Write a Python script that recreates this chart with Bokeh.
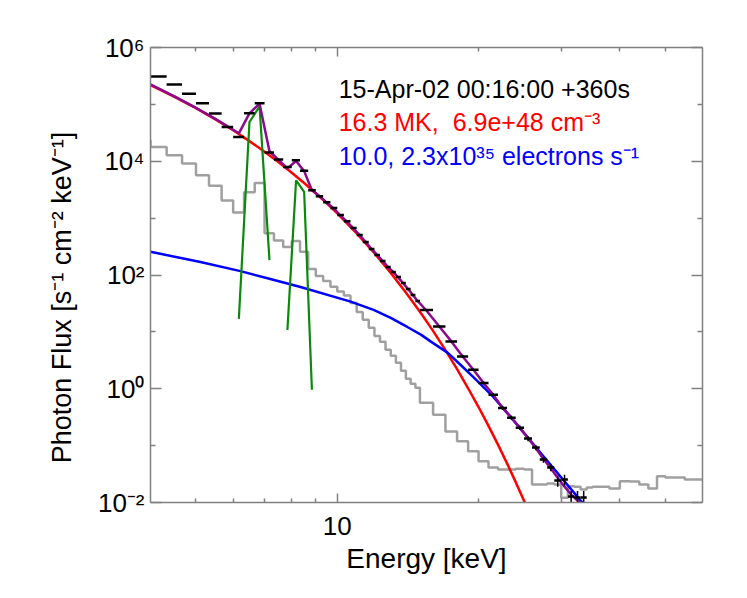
from bokeh.plotting import figure
from bokeh.models import FixedTicker, LogAxis, Label, CustomJSTickFormatter, Range1d
from bokeh.embed import file_html
from bokeh.resources import INLINE

# ---------------- data ----------------
# observed count-flux spectrum: energy bin edges [keV], flux, relative error
data_edges = [4.0, 4.33, 4.67, 5.0, 5.33, 5.67, 6.0, 6.33, 6.67, 7.0, 7.33, 7.67, 8.0,
              8.33, 8.67, 9.0, 9.33, 9.67, 10.0, 10.33, 10.67, 11.0, 11.33, 11.67, 12.0,
              12.33, 12.67, 13.0, 13.33, 13.67, 14.0, 14.33, 14.67, 15.0,
              16, 17, 18, 19, 20, 21, 22, 23, 24, 25, 26, 27, 28, 29, 30, 31, 32, 33, 34]
data_flux = [3.1e5, 2.24e5, 1.54e5, 1.05e5, 6.9e4, 4.0e4, 2.67e4, 7.0e4, 1.05e5, 1.42e4,
             1.07e4, 7.9e3, 1.04e4, 6.8e3, 3100, 2430, 1910, 1500, 1130, 885, 668, 504,
             379, 286, 224, 176, 138, 113, 92.3, 72.4, 56.8, 44.6, 35.0,
             24.3, 12.4, 6.76, 3.69, 2.15, 1.26, 0.785, 0.458, 0.310, 0.207, 0.133,
             0.0923, 0.0568, 0.0411, 0.0243, 0.0253, 0.0127, 0.0122, 0.0122]
data_err = [0.01] * 20 + [0.015] * 7 + [0.02] * 6 + \
           [0.03, 0.04, 0.04, 0.05, 0.05, 0.06, 0.07, 0.08, 0.08, 0.09, 0.10, 0.10,
            0.12, 0.14, 0.22, 0.22, 0.25, 0.30, 0.30]

# background (grey histogram)
bkg_edges = [3.67, 4.0, 4.33, 4.67, 5.0, 5.33, 5.67, 6.0, 6.33, 6.67, 7.0, 7.33, 7.67, 8.0,
             8.33, 8.67, 9.0, 9.33, 9.67, 10.0, 10.33, 10.67, 11.0, 11.33, 11.67, 12.0,
             12.33, 12.67, 13.0, 13.33, 13.67, 14.0, 14.33, 14.67, 15.0,
             16, 17, 18, 19, 20, 21, 22, 23, 24, 25, 26, 27, 28, 29, 30, 31, 32, 33, 34,
             35, 36, 37, 38, 39, 40, 42, 44, 46, 48, 50, 55, 60]
bkg_flux = [2.33e4, 1.78e4, 1.27e4, 9.1e3, 5.7e3, 3.7e3, 2.05e3, 1.26e3, 2.86e3, 4.16e3,
            540, 406, 310, 395, 256, 127, 96, 78.5, 62.4, 51.4, 43.7, 32.3, 22.4, 16.3,
            11.8, 8.5, 6.7, 4.83, 3.79, 2.86, 2.07, 1.50, 1.22, 1.04,
            0.568, 0.35, 0.178, 0.119, 0.0794, 0.0531, 0.0411, 0.0379, 0.0379, 0.0394,
            0.0379, 0.0207, 0.0207, 0.0215, 0.0207, 0.0121, 0.0193, 0.019, 0.0169,
            0.0183, 0.019, 0.019, 0.019, 0.0176, 0.0176, 0.0237, 0.0233, 0.0207,
            0.0176, 0.0289, 0.0274, 0.0254]

# thermal component (red)
th_energy = [4.0, 4.5, 5.0, 5.5, 6.0, 6.5, 7.0, 7.5, 8.0, 8.5, 9.0, 9.5, 10.0, 11.0,
             12.0, 13.0, 14.0, 15.0, 16.0, 17.0, 18.0, 19.0, 20.0, 21.0, 22.0, 23.0,
             24.0, 25.0, 26.0]
th_flux = [2.19e5, 1.36e5, 8.58e4, 5.46e4, 3.5e4, 2.26e4, 1.47e4, 9.59e3, 6.29e3,
           4.14e3, 2.74e3, 1.82e3, 1.21e3, 537, 241, 109, 49.4, 22.6, 10.4, 4.79,
           2.21, 1.02, 0.477, 0.222, 0.104, 0.0487, 0.0228, 0.0107, 0.00505]

# thick-target component (blue)
nt_energy = [4.0, 5.11, 6.22, 7.2, 8.35, 10.68, 11.95, 13.0, 14.1, 15.1, 15.8, 17.2,
             18.3, 19.5, 21.5, 23.4, 27.1, 33.0, 33.8]
nt_flux = [256, 169, 117, 85, 61.5, 34.0, 24.3, 17.6, 12.2, 8.85, 6.81, 4.28,
           2.64, 1.6, 0.72, 0.32, 0.075, 0.0108, 0.0088]

# line components (green), two line complexes
ln1_energy = [6.17, 6.5, 6.83, 7.17]
ln1_flux = [16.9, 4.9e4, 9.2e4, 183]
ln2_energy = [7.83, 8.17, 8.5, 8.83]
ln2_flux = [10.8, 4.6e3, 2.9e3, 0.96]

# total model (purple)
tot_energy = [4.0, 4.5, 5.0, 5.5, 6.17, 6.5, 6.83, 7.17, 7.83, 8.17, 8.5, 8.83, 9.17,
              9.5, 9.83, 10.17, 10.5, 10.83, 11.17, 11.5, 11.83, 12.17, 12.5, 12.83,
              13.17, 13.5, 13.83, 14.17, 14.5, 14.83, 15.5, 16.5, 17.5, 18.5, 19.5,
              20.5, 21.5, 22.5, 23.5, 24.5, 25.5, 26.5, 27.5, 28.5, 29.5, 30.5, 31.5,
              32.5, 33.5]
tot_flux = [2.24e5, 1.38e5, 8.7e4, 5.56e4, 3.1e4, 6.95e4, 1.03e5, 1.5e4, 7.5e3, 1.01e4,
            6.7e3, 3.1e3, 2.43e3, 1.87e3, 1.48e3, 1.1e3, 860, 655, 500, 378, 287, 224,
            176, 138, 112, 90, 71, 56, 44, 35, 23.5, 12.4, 6.8, 3.7, 2.15, 1.26, 0.78,
            0.46, 0.31, 0.205, 0.135, 0.09, 0.058, 0.04, 0.027, 0.019, 0.0138, 0.0108,
            0.0088]

# axes
x_major_ticks = [10]
x_minor_ticks = [5, 6, 7, 8, 9, 20, 30, 40, 50]
x_tick_labels = ["10"]
y_major_ticks = [1e-2, 1e0, 1e2, 1e4, 1e6]
y_minor_ticks = [1e-1, 1e1, 1e3, 1e5]
y_tick_labels = ["10\u207b\u00b2", "10\u2070", "10\u00b2", "10\u2074", "10\u2076"]

title_lines = ["15-Apr-02 00:16:00 +360s",
               "16.3 MK,\u00a0 6.9e+48 cm\u207b\u00b3",
               "10.0, 2.3x10\u00b3\u2075 electrons s\u207b\u00b9"]
title_colors = ["black", "#ff0000", "#0000ff"]

FONT = "Liberation Sans"
AX = "#808080"

p = figure(width=739, height=590, x_axis_type="log", y_axis_type="log",
           x_range=Range1d(4, 60), y_range=Range1d(1e-2, 1e6),
           output_backend="svg", toolbar_location=None,
           min_border_left=150, min_border_right=37, min_border_top=47,
           min_border_bottom=88, outline_line_color=None,
           background_fill_color="white", border_fill_color="white")
p.grid.visible = False


def style(ax, maj, mnr):
    ax.axis_line_color = AX
    ax.axis_line_width = 1.5
    ax.major_tick_line_color = AX
    ax.minor_tick_line_color = AX
    ax.major_tick_line_width = 1.5
    ax.minor_tick_line_width = 1.5
    ax.major_tick_in = maj
    ax.major_tick_out = 0
    ax.minor_tick_in = mnr
    ax.minor_tick_out = 0


xb = p.below[0]
xb.ticker = FixedTicker(ticks=x_major_ticks, minor_ticks=x_minor_ticks)
xb.major_label_overrides = dict(zip(x_major_ticks, x_tick_labels))
style(xb, 9, 4)
xb.major_label_text_font = FONT
xb.major_label_text_font_size = "26px"
xb.major_label_text_color = "black"
xb.major_label_standoff = 14
xb.axis_label = "Energy [keV]"
xb.axis_label_text_font = FONT
xb.axis_label_text_font_size = "28px"
xb.axis_label_text_font_style = "normal"
xb.axis_label_text_color = "black"
xb.axis_label_standoff = 5

yl = p.left[0]
yl.ticker = FixedTicker(ticks=y_major_ticks, minor_ticks=y_minor_ticks)
yl.major_label_overrides = dict(zip(y_major_ticks, y_tick_labels))
style(yl, 11, 5)
yl.major_label_text_font = FONT
yl.major_label_text_font_size = "26px"
yl.major_label_text_color = "black"
yl.major_label_standoff = 6
yl.axis_label = "Photon Flux [s\u207b\u00b9 cm\u207b\u00b2 keV\u207b\u00b9]" + "\u00a0" * 6
yl.axis_label_text_font = FONT
yl.axis_label_text_font_size = "27px"
yl.axis_label_text_font_style = "normal"
yl.axis_label_text_color = "black"
yl.axis_label_standoff = 18

empty = CustomJSTickFormatter(code="return ''")
yr = LogAxis(ticker=FixedTicker(ticks=y_major_ticks, minor_ticks=y_minor_ticks),
             formatter=empty)
style(yr, 11, 5)
p.add_layout(yr, "right")
xt = LogAxis(ticker=FixedTicker(ticks=x_major_ticks, minor_ticks=x_minor_ticks),
             formatter=empty)
style(xt, 9, 4)
p.add_layout(xt, "above")

# background histogram
p.step(bkg_edges, bkg_flux + [bkg_flux[-1]], mode="after",
       line_color="#a0a0a0", line_width=2.5)
# model components
p.line(th_energy, th_flux, line_color="#ff0000", line_width=2.5)
p.line(nt_energy, nt_flux, line_color="#0000ff", line_width=2.5)
p.line(ln1_energy, ln1_flux, line_color="#0a8a0a", line_width=2.2)
p.line(ln2_energy, ln2_flux, line_color="#0a8a0a", line_width=2.2)
p.line(tot_energy, tot_flux, line_color="#8b0a8b", line_width=2.5)

# data: horizontal bin bars and vertical error bars
lo = data_edges[:-1]
hi = data_edges[1:]
mid = [(a * b) ** 0.5 for a, b in zip(lo, hi)]
p.segment(x0=lo, x1=hi, y0=data_flux, y1=data_flux, line_color="black", line_width=2.5)
p.segment(x0=mid, x1=mid, y0=[f * (1 - e) for f, e in zip(data_flux, data_err)],
          y1=[f * (1 + e) for f, e in zip(data_flux, data_err)],
          line_color="black", line_width=1.5)

# annotation text
for txt, col, yy in zip(title_lines, title_colors, [1.885e5, 4.9e4, 1.224e4]):
    p.add_layout(Label(x=10.07, y=yy, text=txt, text_color=col, text_font=FONT,
                       text_font_size="25px", text_baseline="alphabetic",
                       text_align="left"))

open("out.html", "w").write(file_html(p, INLINE))
